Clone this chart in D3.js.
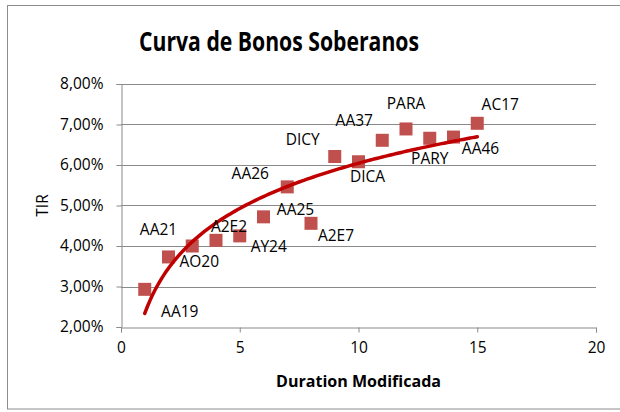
<!DOCTYPE html>
<html lang='es'>
<head>
<meta charset='utf-8'>
<title>Curva de Bonos Soberanos</title>
<script src='https://cdn.jsdelivr.net/npm/d3@7/dist/d3.min.js'></script>
<style>
  body { margin: 0; background: #fff; }
  text { font-family: 'Open Sans', sans-serif; fill: #000; }
</style>
</head>
<body>
<script>
// data
var bonos    = ['AA19','AA21','AO20','A2E2','AY24','AA25','AA26','A2E7','DICY','DICA','AA37','PARA','PARY','AA46','AC17'];
var duration = [1, 2, 3, 4, 5, 6, 7, 8, 9, 10, 11, 12, 13, 14, 15];
var tir      = [0.0293, 0.0373, 0.0400, 0.0414, 0.0425, 0.0472, 0.0546, 0.0456, 0.0621, 0.0608, 0.0661, 0.0689, 0.0666, 0.0669, 0.0703];
var xTicks   = [0, 5, 10, 15, 20];
var yTicks   = [0.02, 0.03, 0.04, 0.05, 0.06, 0.07, 0.08];

// where each data label sits relative to its marker
var labelDx = [35, -10, 7, 13, 29, 32, -37, 25, -32, 9, -28, 0, 0, 27, 23];
var labelDy = [22, -27, 16, -14, 11, -7, -13, 12, -17, 15, -20, -25, 20, 12, -19];

var width = 620, height = 412;
var fs = '15.5px';
var svg = d3.select('body').append('svg').attr('width', width).attr('height', height);

// outer chart frame
svg.append('rect').attr('x', 7.5).attr('y', 5.5).attr('width', 640).attr('height', 403.5)
   .attr('fill', 'none').attr('stroke', '#8c8c8c').attr('stroke-width', 1);

var x = d3.scaleLinear().domain([0, 20]).range([121, 596]);
var y = d3.scaleLinear().domain([0.02, 0.08]).range([327, 84]);

var es = d3.formatLocale({decimal: ',', thousands: '.', grouping: [3], currency: ['', '€']});
var pct = es.format('.2%');

// gridlines
svg.append('g').selectAll('line').data(yTicks.slice(1)).enter().append('line')
   .attr('x1', x(0)).attr('x2', x(20))
   .attr('y1', d => Math.round(y(d)) + 0.5).attr('y2', d => Math.round(y(d)) + 0.5)
   .attr('stroke', '#8a8a8a').attr('stroke-width', 1);

var yAxis = svg.append('g').attr('transform', 'translate(' + (x(0) + 0.5) + ',0)')
   .call(d3.axisLeft(y).tickValues(yTicks).tickFormat(pct).tickSize(5).tickPadding(13));
var xAxis = svg.append('g').attr('transform', 'translate(0,' + (y(0.02) + 0.5) + ')')
   .call(d3.axisBottom(x).tickValues(xTicks).tickSize(5).tickPadding(9));

[yAxis, xAxis].forEach(function(a) {
  a.select('.domain').attr('stroke', '#8a8a8a');
  a.selectAll('.tick line').attr('stroke', '#8a8a8a');
  a.selectAll('text').attr('font-size', fs).attr('font-family', "'Open Sans', sans-serif").attr('fill', '#000');
});

// logarithmic trendline, least squares on ln(duration)
var lx = duration.map(Math.log);
var mx = d3.mean(lx), my = d3.mean(tir);
var b = d3.sum(lx, (v, i) => (v - mx) * (tir[i] - my)) / d3.sum(lx, v => (v - mx) * (v - mx));
var a0 = my - b * mx;
var trend = d3.range(d3.min(duration), d3.max(duration) + 0.001, 0.1).map(d => [d, a0 + b * Math.log(d)]);

// markers
svg.append('g').selectAll('rect').data(tir).enter().append('rect')
   .attr('x', (d, i) => x(duration[i]) - 6.5)
   .attr('y', d => y(d) - 6.5)
   .attr('width', 13).attr('height', 13)
   .attr('fill', '#c0504d');

svg.append('path').datum(trend)
   .attr('d', d3.line().x(d => x(d[0])).y(d => y(d[1])))
   .attr('fill', 'none').attr('stroke', '#c00000').attr('stroke-width', 3.5).attr('stroke-linecap', 'round');

// data labels
svg.append('g').selectAll('text').data(bonos).enter().append('text')
   .attr('x', (d, i) => x(duration[i]) + labelDx[i])
   .attr('y', (d, i) => y(tir[i]) + labelDy[i])
   .attr('text-anchor', 'middle').attr('dy', '0.35em')
   .attr('font-size', fs)
   .text(d => d);

// titles
svg.append('text').attr('x', 279).attr('y', 51).attr('text-anchor', 'middle')
   .attr('font-size', '26.5px').attr('font-weight', 'bold')
   .attr('textLength', 280).attr('lengthAdjust', 'spacingAndGlyphs')
   .text('Curva de Bonos Soberanos');
svg.append('text').attr('x', (x(0) + x(20)) / 2).attr('y', 387).attr('text-anchor', 'middle')
   .attr('font-size', '15.5px').attr('font-weight', 'bold')
   .attr('textLength', 165).attr('lengthAdjust', 'spacingAndGlyphs')
   .text('Duration Modificada');
svg.append('text').attr('transform', 'translate(43,' + ((y(0.02) + y(0.08)) / 2) + ')rotate(-90)')
   .attr('text-anchor', 'middle').attr('dy', '0.35em').attr('font-size', fs).text('TIR');
</script>
</body>
</html>
